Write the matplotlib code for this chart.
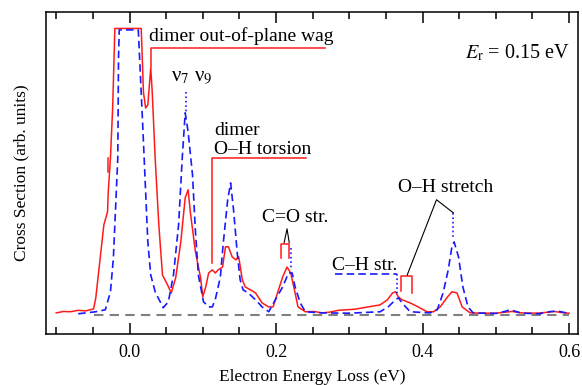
import matplotlib
matplotlib.use('Agg')
import matplotlib.pyplot as plt
import numpy as np

plt.rcParams['font.family'] = ['Liberation Serif', 'DejaVu Serif']
plt.rcParams['mathtext.fontset'] = 'stix'

# red (solid) spectrum, clipped at the top
red_x = [-0.100, -0.090, -0.081, -0.070, -0.060, -0.049, -0.046, -0.040, -0.035, -0.030,
         -0.029, -0.026, -0.023, -0.020, 0.016, 0.019, 0.022, 0.025, 0.029, 0.031,
         0.035, 0.040, 0.045, 0.052, 0.057, 0.063, 0.070, 0.076, 0.080, 0.083,
         0.090, 0.097, 0.100, 0.104, 0.108, 0.113, 0.117, 0.121, 0.127, 0.131,
         0.135, 0.140, 0.145, 0.149, 0.154, 0.158, 0.165, 0.172, 0.181, 0.190,
         0.196, 0.202, 0.209, 0.215, 0.220, 0.226, 0.230, 0.240, 0.252, 0.263,
         0.274, 0.285, 0.297, 0.308, 0.319, 0.330, 0.342, 0.352, 0.359, 0.363,
         0.367, 0.372, 0.383, 0.394, 0.406, 0.415, 0.424, 0.434, 0.440, 0.447,
         0.454, 0.465, 0.480, 0.500, 0.515, 0.522, 0.535, 0.555, 0.570, 0.580,
         0.590, 0.600]
red_y = [0.007, 0.012, 0.011, 0.016, 0.014, 0.021, 0.060, 0.200, 0.316, 0.361,
         0.432, 0.551, 0.726, 1.005, 1.005, 0.782, 0.726, 0.737, 0.867, 0.782,
         0.551, 0.316, 0.140, 0.105, 0.077, 0.130, 0.256, 0.411, 0.439, 0.361,
         0.221, 0.130, 0.063, 0.098, 0.147, 0.158, 0.147, 0.158, 0.168, 0.239,
         0.239, 0.204, 0.193, 0.204, 0.123, 0.098, 0.088, 0.077, 0.042, 0.028,
         0.028, 0.077, 0.133, 0.168, 0.147, 0.077, 0.028, 0.011, 0.012, 0.007,
         0.010, 0.016, 0.018, 0.020, 0.025, 0.030, 0.035, 0.053, 0.077, 0.081,
         0.063, 0.053, 0.042, 0.028, 0.011, 0.011, 0.028, 0.063, 0.081, 0.077,
         0.028, 0.007, 0.006, 0.006, 0.010, 0.012, 0.007, 0.006, 0.009, 0.012,
         0.008, 0.006]

# blue (dashed) spectrum, clipped at the top
blue_x = [-0.070, -0.046, -0.033, -0.026, -0.022, -0.016, -0.015, -0.014, 0.012, 0.018,
          0.022, 0.025, 0.029, 0.035, 0.046, 0.053, 0.060, 0.067, 0.072, 0.076,
          0.080, 0.086, 0.090, 0.094, 0.101, 0.108, 0.113, 0.117, 0.124, 0.128,
          0.134, 0.138, 0.142, 0.147, 0.151, 0.155, 0.162, 0.172, 0.181, 0.190,
          0.199, 0.209, 0.217, 0.222, 0.226, 0.233, 0.240, 0.263, 0.300, 0.342,
          0.353, 0.363, 0.367, 0.372, 0.383, 0.410, 0.420, 0.428, 0.435, 0.440,
          0.443, 0.449, 0.455, 0.462, 0.469, 0.500, 0.512, 0.520, 0.535, 0.560,
          0.575, 0.585, 0.600]
blue_y = [0.004, 0.011, 0.018, 0.081, 0.200, 0.551, 0.902, 1.000, 1.000, 0.667,
          0.432, 0.256, 0.140, 0.081, 0.025, 0.046, 0.140, 0.316, 0.551, 0.709,
          0.642, 0.491, 0.291, 0.140, 0.046, 0.028, 0.028, 0.053, 0.133, 0.253,
          0.404, 0.463, 0.368, 0.218, 0.123, 0.088, 0.077, 0.053, 0.028, 0.011,
          0.053, 0.098, 0.147, 0.147, 0.098, 0.042, 0.011, 0.007, 0.006, 0.011,
          0.028, 0.053, 0.060, 0.042, 0.011, 0.007, 0.018, 0.077, 0.158, 0.239,
          0.256, 0.204, 0.098, 0.028, 0.007, 0.005, 0.012, 0.018, 0.006, 0.004,
          0.012, 0.013, 0.005]

fig = plt.figure(figsize=(5.82, 3.85), dpi=100)
ax = fig.add_axes([0.079, 0.1325, 0.914, 0.8365])

red = '#ff1a1a'
blue = '#1a1aff'
fs = 12.5
afs = 14

ax.plot([-0.049, 0.6], [0, 0], color='#808080', lw=1.5, dashes=(4.5, 3))
ax.plot(red_x, red_y, color=red, lw=1.1)
ax.plot(blue_x, blue_y, color=blue, lw=1.2, dashes=(4.5, 2.5))

# small red mark on the rising edge
ax.plot([-0.029, -0.029], [0.502, 0.551], color=red, lw=1.1)

# dimer out-of-plane wag
ax.plot([0.029, 0.029, 0.267], [0.87, 0.937, 0.937], color=red, lw=1.1)
ax.text(0.026, 0.978, 'dimer out-of-plane wag', fontsize=afs, va='center', ha='left')

# nu7 nu9
ax.plot([0.077, 0.077], [0.782, 0.709], color=blue, lw=1.2, ls=':')
ax.text(0.085, 0.835, 'ν$_7$ ν$_9$', fontsize=afs + 1, va='center', ha='center')

# dimer O-H torsion
ax.plot([0.113, 0.113, 0.241], [0.182, 0.551, 0.551], color=red, lw=1.1)
ax.text(0.115, 0.648, 'dimer', fontsize=afs, va='center', ha='left')
ax.text(0.115, 0.580, 'O\u2013H torsion', fontsize=afs, va='center', ha='left')

# C=O str.
ax.text(0.226, 0.342, 'C=O str.', fontsize=afs, va='center', ha='center')
ax.plot([0.211, 0.215, 0.218], [0.253, 0.302, 0.253], color='black', lw=0.8)
ax.plot([0.207, 0.207, 0.218, 0.218], [0.2, 0.249, 0.249, 0.2], color=red, lw=1.1)
ax.plot([0.220, 0.220], [0.235, 0.158], color=blue, lw=1.2, ls=':')

# C-H str.
ax.text(0.277, 0.174, 'C\u2013H str.', fontsize=afs, va='center', ha='left')
ax.plot([0.281, 0.365], [0.144, 0.144], color=blue, lw=1.2, dashes=(4.5, 2.5))
ax.plot([0.365, 0.365], [0.144, 0.067], color=blue, lw=1.2, ls=':')
ax.plot([0.371, 0.371, 0.386, 0.386], [0.084, 0.137, 0.137, 0.077], color=red, lw=1.1)

# O-H stretch
ax.text(0.432, 0.448, 'O\u2013H stretch', fontsize=afs, va='center', ha='center')
ax.plot([0.379, 0.419, 0.442], [0.140, 0.404, 0.358], color='black', lw=0.8)
ax.plot([0.442, 0.442], [0.358, 0.27], color=blue, lw=1.2, ls=':')

ax.text(0.985, 0.873, r'$E_\mathrm{r}$ = 0.15 eV', transform=ax.transAxes,
        fontsize=afs + 0.5, ha='right', va='center')

ax.set_xlim(-0.114, 0.612)
ax.set_ylim(-0.067, 1.063)
ax.set_xticks([0.0, 0.2, 0.4, 0.6])
ax.set_xticks(np.arange(-0.1, 0.61, 0.05), minor=True)
ax.set_xticklabels(['0.0', '0.2', '0.4', '0.6'])
ax.set_yticks([])
ax.tick_params(axis='x', which='both', direction='in', top=True, labelsize=13, width=1.1)
ax.tick_params(axis='x', which='major', length=8, pad=7)
ax.tick_params(axis='x', which='minor', length=5)
for s in ax.spines.values():
    s.set_linewidth(1.1)

ax.set_xlabel('Electron Energy Loss (eV)', fontsize=fs, labelpad=6)
ax.set_ylabel('Cross Section (arb. units)', fontsize=fs, labelpad=12)

fig.savefig('out.png', dpi=100)
